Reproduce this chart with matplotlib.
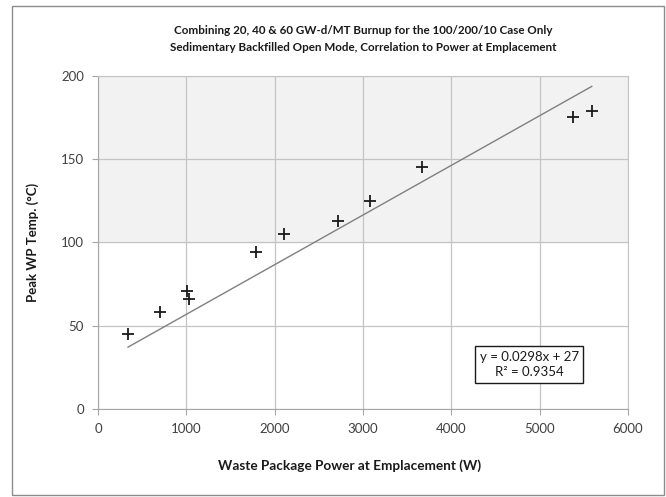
import matplotlib
matplotlib.use("Agg")
import matplotlib.pyplot as plt
from matplotlib.patches import Rectangle
import numpy as np

plt.rcParams['font.family'] = ['Lato', 'DejaVu Sans']

power_w = [340, 700, 1010, 1025, 1790, 2100, 2720, 3080, 3670, 5380, 5590]
peak_temp_c = [45, 58, 71, 66, 94, 105, 113, 125, 145, 175, 179]
slope = 0.0298
intercept = 27
r2 = 0.9354
x_ticks = [0, 1000, 2000, 3000, 4000, 5000, 6000]
y_ticks = [0, 50, 100, 150, 200]
title = ("Combining 20, 40 & 60 GW-d/MT Burnup for the 100/200/10 Case Only\n"
         "Sedimentary Backfilled Open Mode, Correlation to Power at Emplacement")
xlabel = "Waste Package Power at Emplacement (W)"
ylabel = "Peak WP Temp. (°C)"

fig = plt.figure(figsize=(6.66, 4.97), dpi=100)
ax = fig.add_axes([98/666, 1-409/497, (628-98)/666, (409-75.7)/497])

# outer chart border
fig.patches.append(Rectangle((12/666, 1-495/497), (664-12)/666, (495-6)/497,
                             transform=fig.transFigure, fill=False,
                             edgecolor='#8c8c8c', linewidth=1.0))

ax.set_xlim(0, 6000)
ax.set_ylim(0, 200)
ax.axhspan(100, 200, color='#f2f2f2', zorder=0)
ax.set_xticks(x_ticks)
ax.set_yticks(y_ticks)
ax.grid(True, color='#c4c4c4', linewidth=0.9, zorder=1)
ax.set_axisbelow(True)
for s in ['top', 'right']:
    ax.spines[s].set_color('#c4c4c4')
for s in ['left', 'bottom']:
    ax.spines[s].set_color('#a6a6a6')
ax.tick_params(axis='both', length=4, color='#a6a6a6', labelsize=9.5,
               labelcolor='#404040', pad=6)

xs = np.array([min(power_w), max(power_w)])
ax.plot(xs, slope*xs + intercept, color='#808080', linewidth=1.0, zorder=3)
ax.plot(power_w, peak_temp_c, linestyle='none', marker='+', markersize=9,
        markeredgewidth=1.3, color='#1a1a1a', zorder=4)

ax.text(4880, 26.7, f"y = {slope}x + {intercept}\nR² = {r2}", ha='center', va='center',
        fontsize=9.5, color='#1a1a1a', linespacing=1.3,
        bbox=dict(boxstyle='square,pad=0.35', facecolor='white', edgecolor='#1a1a1a',
                  linewidth=1.0), zorder=5)

fig.text(363/666, 1-39/497, title, ha='center', va='center', fontsize=8.4,
         fontweight='bold', color='#1a1a1a', linespacing=1.75)
fig.text(350/666, 1-466/497, xlabel, ha='center', va='center', fontsize=9.8,
         fontweight='bold', color='#1a1a1a')
fig.text(33/666, 1-242/497, ylabel, ha='center', va='center', rotation=90,
         fontsize=9.5, fontweight='bold', color='#1a1a1a')

fig.savefig('out.png', dpi=100)
